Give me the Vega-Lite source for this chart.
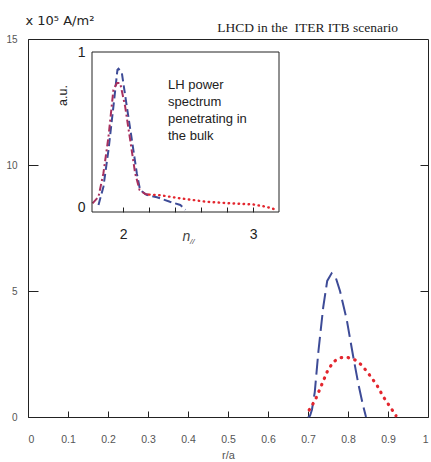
{
  "$schema": "https://vega.github.io/schema/vega-lite/v6.json",
  "width": 400,
  "height": 378,
  "autosize": {"type": "none"},
  "padding": {"left": 28, "top": 39, "right": 3, "bottom": 45},
  "background": "white",
  "config": {"view": {"stroke": "#222", "strokeWidth": 1}, "font": "Liberation Sans"},
  "datasets": {
    "main": [
      {"r": 0.700, "j": 0, "series": "blue"},
      {"r": 0.705, "j": 0.05, "series": "blue"},
      {"r": 0.710, "j": 0.3, "series": "blue"},
      {"r": 0.717, "j": 1.0, "series": "blue"},
      {"r": 0.726, "j": 2.6, "series": "blue"},
      {"r": 0.738, "j": 4.35, "series": "blue"},
      {"r": 0.748, "j": 5.4, "series": "blue"},
      {"r": 0.759, "j": 5.7, "series": "blue"},
      {"r": 0.770, "j": 5.5, "series": "blue"},
      {"r": 0.780, "j": 5.0, "series": "blue"},
      {"r": 0.797, "j": 3.85, "series": "blue"},
      {"r": 0.813, "j": 2.4, "series": "blue"},
      {"r": 0.826, "j": 1.3, "series": "blue"},
      {"r": 0.837, "j": 0.5, "series": "blue"},
      {"r": 0.845, "j": 0, "series": "blue"},
      {"r": 0.703, "j": 0.28, "series": "red"},
      {"r": 0.718, "j": 0.67, "series": "red"},
      {"r": 0.734, "j": 1.27, "series": "red"},
      {"r": 0.748, "j": 1.8, "series": "red"},
      {"r": 0.763, "j": 2.19, "series": "red"},
      {"r": 0.780, "j": 2.35, "series": "red"},
      {"r": 0.798, "j": 2.37, "series": "red"},
      {"r": 0.818, "j": 2.26, "series": "red"},
      {"r": 0.834, "j": 2.06, "series": "red"},
      {"r": 0.851, "j": 1.73, "series": "red"},
      {"r": 0.872, "j": 1.27, "series": "red"},
      {"r": 0.888, "j": 0.81, "series": "red"},
      {"r": 0.905, "j": 0.41, "series": "red"},
      {"r": 0.920, "j": 0.05, "series": "red"}
    ],
    "inset": [
      {"n": 1.81, "p": 0.015, "series": "blue"},
      {"n": 1.848, "p": 0.133, "series": "blue"},
      {"n": 1.887, "p": 0.37, "series": "blue"},
      {"n": 1.925, "p": 0.65, "series": "blue"},
      {"n": 1.956, "p": 0.886, "series": "blue"},
      {"n": 1.964, "p": 0.892, "series": "blue"},
      {"n": 1.99, "p": 0.864, "series": "blue"},
      {"n": 2.028, "p": 0.65, "series": "blue"},
      {"n": 2.067, "p": 0.434, "series": "blue"},
      {"n": 2.105, "p": 0.22, "series": "blue"},
      {"n": 2.13, "p": 0.112, "series": "blue"},
      {"n": 2.18, "p": 0.08, "series": "blue"},
      {"n": 2.26, "p": 0.065, "series": "blue"},
      {"n": 2.36, "p": 0.036, "series": "blue"},
      {"n": 2.44, "p": 0.015, "series": "blue"},
      {"n": 2.48, "p": -0.015, "series": "blue"},
      {"n": 1.764, "p": 0.026, "series": "reddash"},
      {"n": 1.81, "p": 0.068, "series": "reddash"},
      {"n": 1.848, "p": 0.22, "series": "reddash"},
      {"n": 1.887, "p": 0.455, "series": "reddash"},
      {"n": 1.925, "p": 0.757, "series": "reddash"},
      {"n": 1.952, "p": 0.8, "series": "reddash"},
      {"n": 1.977, "p": 0.8, "series": "reddash"},
      {"n": 2.015, "p": 0.65, "series": "reddash"},
      {"n": 2.054, "p": 0.434, "series": "reddash"},
      {"n": 2.092, "p": 0.22, "series": "reddash"},
      {"n": 2.126, "p": 0.112, "series": "reddash"},
      {"n": 2.17, "p": 0.086, "series": "reddash"},
      {"n": 2.2, "p": 0.082, "series": "reddash"},
      {"n": 2.2, "p": 0.082, "series": "reddot"},
      {"n": 2.285, "p": 0.078, "series": "reddot"},
      {"n": 2.44, "p": 0.058, "series": "reddot"},
      {"n": 2.64, "p": 0.036, "series": "reddot"},
      {"n": 2.82, "p": 0.026, "series": "reddot"},
      {"n": 3.0, "p": 0.019, "series": "reddot"},
      {"n": 3.1, "p": 0.004, "series": "reddot"},
      {"n": 3.17, "p": -0.013, "series": "reddot"}
    ]
  },
  "layer": [
    {
      "data": {"name": "main"},
      "encoding": {
        "x": {"field": "r", "type": "quantitative",
          "scale": {"domain": [0, 1], "nice": false, "zero": false},
          "axis": {"orient": "bottom", "values": [0, 0.1, 0.2, 0.3, 0.4, 0.5, 0.6, 0.7, 0.8, 0.9, 1], "format": "~g", "domain": false, "grid": false,
            "tickSize": -6, "tickColor": "#222", "labelPadding": 23, "labelFontSize": 10.5, "labelColor": "#555",
            "title": "r/a", "titleFontSize": 11, "titleFontWeight": "normal", "titleColor": "#555", "titleX": 200, "titleY": 38, "titleBaseline": "middle"}}
      },
      "layer": [
        {
          "transform": [{"filter": "datum.series == 'blue'"}],
          "mark": {"type": "line", "color": "#3d4b97", "strokeDash": [16, 6], "strokeWidth": 2},
          "encoding": {
            "y": {"field": "j", "type": "quantitative",
              "scale": {"domain": [0, 15], "nice": false, "zero": false},
              "axis": {"orient": "left", "values": [0, 5, 10, 15], "domain": false, "grid": false,
                "tickSize": -10, "tickColor": "#222", "labelPadding": 21, "labelFontSize": 10, "labelColor": "#555",
                "title": "x 10⁵ A/m²", "titleAngle": 0, "titleX": -3, "titleY": -15, "titleAlign": "left", "titleBaseline": "alphabetic",
                "titleFont": "DejaVu Sans", "titleFontSize": 13, "titleFontWeight": "normal", "titleColor": "#222"}}
          }
        },
        {
          "transform": [{"filter": "datum.series == 'red'"}],
          "mark": {"type": "line", "color": "#e3262e", "strokeDash": [0.5, 6.5], "strokeCap": "round", "strokeWidth": 3.2},
          "encoding": {
            "y": {"field": "j", "type": "quantitative",
              "scale": {"domain": [0, 15], "nice": false, "zero": false},
              "axis": {"orient": "right", "values": [5, 10], "domain": false, "grid": false, "labels": false,
                "tickSize": -8, "tickColor": "#222", "title": null}}
          }
        }
      ],
      "resolve": {"axis": {"y": "independent"}}
    },
    {
      "data": {"name": "inset"},
      "layer": [
        {
          "transform": [{"filter": "datum.series == 'blue'"}],
          "mark": {"type": "line", "color": "#3d4b97", "strokeDash": [8, 4], "strokeWidth": 2},
          "encoding": {
            "x": {"field": "n", "type": "quantitative",
              "scale": {"domain": [1.76, 3.2], "range": [64, 251], "nice": false, "zero": false},
              "axis": {"orient": "bottom", "offset": -205, "values": [2, 2.2, 2.4, 2.6, 2.8, 3], "labelExpr": "datum.value == 2 ? '2' : datum.value == 3 ? '3' : ''",
                "domain": false, "grid": false, "tickSize": -5, "tickColor": "#222", "labelPadding": 20, "labelFontSize": 14, "labelColor": "#222",
                "title": "n", "titleFontStyle": "italic", "titleFontSize": 14, "titleFontWeight": "normal", "titleColor": "#444", "titleX": 158, "titleY": 24, "titleBaseline": "middle"}},
            "y": {"field": "p", "type": "quantitative",
              "scale": {"domain": [-0.03, 1], "range": [173, 13], "nice": false, "zero": false},
              "axis": {"orient": "left", "offset": -64, "values": [0, 1], "labelExpr": "datum.value == 1 ? '1' : '0'", "ticks": false, "domain": false, "grid": false,
                "labelPadding": 7, "labelFontSize": 14, "labelColor": "#222",
                "title": "a.u.", "titleX": -30, "titleY": 56, "titleAngle": -90, "titleAlign": "center", "titleBaseline": "middle",
                "titleFontSize": 12.5, "titleFontWeight": "normal", "titleColor": "#222"}}
          }
        },
        {
          "transform": [{"filter": "datum.series == 'reddash'"}],
          "mark": {"type": "line", "color": "#a8305e", "strokeDash": [7, 3, 2, 3], "strokeWidth": 2},
          "encoding": {
            "x": {"field": "n", "type": "quantitative"},
            "y": {"field": "p", "type": "quantitative"}
          }
        },
        {
          "transform": [{"filter": "datum.series == 'reddot'"}],
          "mark": {"type": "line", "color": "#e3262e", "strokeDash": [0.5, 4.5], "strokeCap": "round", "strokeWidth": 2.4},
          "encoding": {
            "x": {"field": "n", "type": "quantitative"},
            "y": {"field": "p", "type": "quantitative"}
          }
        },
        {
          "data": {"values": [{}]},
          "mark": {"type": "rect", "fill": null, "stroke": "#222", "strokeWidth": 1},
          "encoding": {
            "x": {"datum": 1.76, "type": "quantitative"},
            "x2": {"datum": 3.2},
            "y": {"datum": -0.03, "type": "quantitative"},
            "y2": {"datum": 1}
          }
        },
        {
          "data": {"values": [{}]},
          "mark": {"type": "text", "text": ["LH power", "spectrum", "penetrating in", "the bulk"], "align": "left", "baseline": "alphabetic", "lineHeight": 17, "fontSize": 13, "color": "#222"},
          "encoding": {
            "x": {"datum": 2.345, "type": "quantitative"},
            "y": {"datum": 0.762, "type": "quantitative"}
          }
        },
        {
          "data": {"values": [{}]},
          "mark": {"type": "text", "text": "//", "align": "left", "baseline": "middle", "fontSize": 8, "fontStyle": "italic", "color": "#444"},
          "encoding": {
            "x": {"datum": 2.515, "type": "quantitative"},
            "y": {"datum": -0.223, "type": "quantitative"}
          }
        },
        {
          "data": {"values": [{}]},
          "mark": {"type": "text", "text": "LHCD in the\u00a0 ITER ITB scenario", "align": "right", "baseline": "alphabetic", "font": "Liberation Serif", "fontSize": 13.5, "color": "#222"},
          "encoding": {
            "x": {"datum": 4.116, "type": "quantitative"},
            "y": {"datum": 1.129, "type": "quantitative"}
          }
        }
      ]
    }
  ],
  "resolve": {"scale": {"x": "independent", "y": "independent"}, "axis": {"x": "independent", "y": "independent"}}
}
